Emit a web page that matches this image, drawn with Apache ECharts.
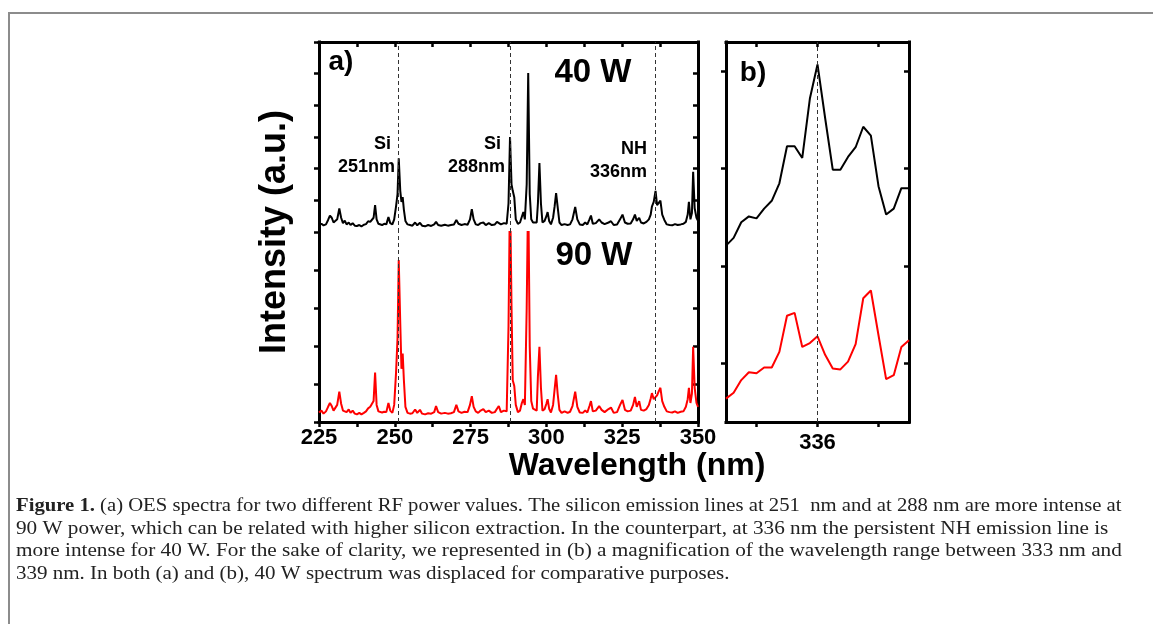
<!DOCTYPE html>
<html>
<head>
<meta charset="utf-8">
<script src="https://cdn.jsdelivr.net/npm/echarts@6/dist/echarts.min.js"></script>
<style>
  html, body { margin: 0; padding: 0; background: #fff; }
  #chart { width: 1153px; height: 624px; }
</style>
</head>
<body>
<div id="chart"></div>
<script>
// Panel (a): OES spectra, 225-350 nm (arbitrary intensity units, 40 W trace offset upward)
const wavelength = [
  225.0, 225.8, 226.5, 227.3, 228.0, 228.6, 229.2, 229.8, 230.4, 231.0,
  231.7, 232.3, 232.9, 233.5, 234.1, 234.8, 235.4, 236.1, 236.8, 237.5,
  238.3, 239.0, 239.8, 240.5, 241.2, 241.9, 242.5, 243.0, 243.5, 244.0,
  244.6, 245.2, 245.8, 246.5, 247.2, 247.9, 248.5, 249.2, 249.8, 250.4,
  250.9, 251.3, 251.8, 252.2, 252.6, 253.0, 253.5, 254.2, 255.0, 255.8,
  256.7, 257.4, 258.3, 259.0, 260.0, 261.0, 262.0, 263.0, 263.6, 264.3,
  265.3, 266.5, 267.5, 268.5, 269.5, 270.3, 271.0, 272.0, 273.0, 274.0,
  274.8, 275.4, 276.0, 276.7, 277.5, 278.3, 279.2, 280.0, 281.0, 282.0,
  283.0, 283.7, 284.3, 285.0, 286.0, 286.9, 287.5, 288.0, 288.5, 288.9,
  289.4, 289.9, 290.6, 291.3, 291.9, 292.4, 292.9, 293.5, 294.0, 294.5,
  295.0, 295.6, 296.2, 296.8, 297.2, 297.7, 298.2, 298.7, 299.4, 300.0,
  300.4, 300.9, 301.5, 302.2, 302.7, 303.2, 303.7, 304.3, 305.0, 306.0,
  307.0, 307.8, 308.6, 309.5, 310.2, 311.0, 312.0, 312.8, 313.5, 314.2,
  314.7, 315.3, 316.3, 317.4, 318.2, 319.2, 320.5, 321.3, 322.2, 323.3,
  324.3, 325.1, 325.9, 326.8, 327.8, 328.6, 329.2, 329.8, 330.6, 331.2,
  332.1, 333.0, 333.8, 334.4, 334.8, 335.4, 336.0, 336.5, 337.0, 337.6,
  338.2, 338.9, 339.7, 340.6, 341.5, 342.4, 343.3, 344.3, 345.2, 346.0,
  346.6, 347.0, 347.5, 348.0, 348.4, 348.9, 349.5, 350.0
];
const intensity40W = [
  0.22, 0.26, 0.21, 0.24, 0.38, 0.52, 0.45, 0.30, 0.24, 0.40,
  0.74, 0.45, 0.28, 0.36, 0.24, 0.30, 0.22, 0.28, 0.20, 0.19,
  0.22, 0.18, 0.23, 0.25, 0.34, 0.32, 0.38, 0.45, 0.85, 0.40,
  0.26, 0.28, 0.22, 0.26, 0.24, 0.47, 0.28, 0.24, 0.40, 0.80,
  1.20, 2.33, 1.30, 0.95, 1.10, 0.70, 0.35, 0.24, 0.22, 0.20,
  0.30, 0.21, 0.29, 0.20, 0.18, 0.22, 0.19, 0.24, 0.32, 0.22,
  0.20, 0.23, 0.20, 0.22, 0.24, 0.38, 0.26, 0.22, 0.25, 0.23,
  0.40, 0.72, 0.40, 0.24, 0.22, 0.28, 0.30, 0.22, 0.28, 0.22,
  0.24, 0.32, 0.38, 0.24, 0.28, 0.26, 0.90, 3.00, 1.50, 1.30,
  1.10, 0.40, 0.26, 0.30, 0.48, 0.63, 0.40, 1.50, 5.02, 1.20,
  0.40, 0.30, 0.36, 0.30, 0.90, 2.18, 0.90, 0.30, 0.35, 0.50,
  0.63, 0.35, 0.24, 0.45, 0.80, 1.23, 0.80, 0.30, 0.22, 0.25,
  0.22, 0.24, 0.40, 0.79, 0.40, 0.24, 0.22, 0.30, 0.24, 0.40,
  0.52, 0.26, 0.28, 0.40, 0.30, 0.25, 0.30, 0.34, 0.22, 0.24,
  0.40, 0.55, 0.30, 0.26, 0.27, 0.40, 0.55, 0.35, 0.45, 0.30,
  0.27, 0.32, 0.40, 0.55, 0.80, 0.95, 1.30, 0.85, 0.88, 0.99,
  0.55, 0.38, 0.24, 0.22, 0.21, 0.25, 0.22, 0.24, 0.26, 0.32,
  0.55, 0.95, 0.40, 0.60, 1.90, 0.75, 0.45, 0.35
];
const intensity90W = [
  0.25, 0.30, 0.22, 0.28, 0.40, 0.50, 0.42, 0.30, 0.25, 0.45,
  0.80, 0.48, 0.30, 0.35, 0.26, 0.33, 0.24, 0.30, 0.22, 0.20,
  0.24, 0.20, 0.24, 0.28, 0.36, 0.40, 0.42, 0.55, 1.30, 0.45,
  0.28, 0.30, 0.25, 0.27, 0.26, 0.50, 0.30, 0.24, 0.45, 1.28,
  2.20, 4.26, 2.60, 1.40, 1.80, 1.10, 0.40, 0.24, 0.22, 0.23,
  0.33, 0.24, 0.32, 0.22, 0.20, 0.23, 0.22, 0.26, 0.42, 0.26,
  0.22, 0.24, 0.22, 0.23, 0.26, 0.45, 0.28, 0.24, 0.27, 0.26,
  0.45, 0.68, 0.40, 0.28, 0.24, 0.30, 0.34, 0.26, 0.30, 0.24,
  0.26, 0.35, 0.42, 0.26, 0.30, 0.28, 2.50, 6.20, 3.00, 1.10,
  0.95, 0.45, 0.26, 0.30, 0.50, 0.60, 0.45, 3.00, 6.20, 2.00,
  0.55, 0.35, 0.32, 0.30, 1.20, 1.98, 0.90, 0.30, 0.34, 0.48,
  0.60, 0.35, 0.25, 0.45, 0.85, 1.24, 0.75, 0.32, 0.24, 0.28,
  0.24, 0.27, 0.42, 0.80, 0.40, 0.25, 0.24, 0.30, 0.25, 0.42,
  0.55, 0.28, 0.30, 0.42, 0.32, 0.26, 0.34, 0.38, 0.24, 0.26,
  0.45, 0.58, 0.32, 0.28, 0.30, 0.45, 0.66, 0.40, 0.55, 0.32,
  0.30, 0.34, 0.45, 0.62, 0.76, 0.60, 0.62, 0.70, 0.80, 0.90,
  0.55, 0.40, 0.28, 0.26, 0.25, 0.28, 0.24, 0.27, 0.28, 0.40,
  0.60, 0.90, 0.50, 0.75, 1.98, 0.90, 0.50, 0.40
];

// Panel (b): magnified region around the NH line
const zoomWavelength = [
  334.500, 334.625, 334.750, 334.875, 335.000, 335.125, 335.250, 335.375, 335.500,
  335.625, 335.750, 335.875, 336.000, 336.125, 336.250, 336.375, 336.500,
  336.625, 336.750, 336.875, 337.000, 337.125, 337.250, 337.375, 337.500
];
const zoom40W = [
  1.81, 1.89, 2.05, 2.11, 2.09, 2.19, 2.27, 2.45, 2.83,
  2.83, 2.71, 3.32, 3.67, 3.12, 2.59, 2.59, 2.72,
  2.82, 3.03, 2.94, 2.42, 2.13, 2.19, 2.40, 2.40
];
const zoom90W = [
  0.24, 0.30, 0.43, 0.51, 0.50, 0.56, 0.56, 0.72, 1.09,
  1.12, 0.77, 0.81, 0.88, 0.69, 0.55, 0.54, 0.62,
  0.80, 1.27, 1.35, 0.89, 0.44, 0.48, 0.77, 0.84
];

const xTicksA = [225, 250, 275, 300, 325, 350];
const emissionLines = [251, 288, 336];
const xTicksB = [335, 336, 337];
const xLabelsB = [336];
const yTicksB = [0.6, 1.6, 2.6, 3.6];

const pair = (xs, ys) => xs.map((x, i) => [x, ys[i]]);

const FONT = 'Liberation Sans, Arial, sans-serif';
const AXIS_W = 3;
const axisLine = { show: true, onZero: false, lineStyle: { color: '#000', width: AXIS_W, cap: 'square' } };
const tick = (inside, extra) => Object.assign({ show: true, inside: inside, length: 5, lineStyle: { color: '#000', width: 2.5 } }, extra || {});
const noSplit = { show: false };

const xAxisA = (gridIndex, position, inside, labels) => ({
  type: 'value', gridIndex, position, min: 225, max: 350, interval: 12.5,
  axisLine, axisTick: tick(inside), splitLine: noSplit,
  axisLabel: labels ? {
    show: true, margin: 5, fontFamily: FONT, fontWeight: 'bold', fontSize: 22, color: '#000',
    formatter: v => (xTicksA.indexOf(v) >= 0 ? String(v) : '')
  } : { show: false }
});

const yAxisA = (gridIndex, position, inside, max) => ({
  type: 'value', gridIndex, position, min: 0, max, interval: 1,
  axisLine, axisTick: tick(inside), splitLine: noSplit, axisLabel: { show: false }
});

const yAxisB = (position, inside) => ({
  type: 'value', gridIndex: 2, position, min: 0, max: 3.9,
  axisLine, axisTick: tick(inside, { customValues: yTicksB }), splitLine: noSplit,
  axisLabel: { show: false }
});

const dashed = { type: [4, 3], color: '#333', width: 1 };
const markLines = values => ({
  silent: true, symbol: ['none', 'none'], label: { show: false },
  lineStyle: dashed, emphasis: { disabled: true },
  data: values.map(v => ({ xAxis: v }))
});

const lineSeries = (name, xi, yi, data, color, marks) => ({
  name, type: 'line', xAxisIndex: xi, yAxisIndex: yi, data,
  showSymbol: false, symbol: 'none', clip: true, silent: true,
  lineStyle: { color, width: 2 }, markLine: marks
});

const boldText = (text, x, y, size, align, extra) => ({
  type: 'text', x, y, silent: true,
  style: Object.assign({
    text, fontFamily: FONT, fontWeight: 'bold', fontSize: size, fill: '#000',
    align: align || 'center', verticalAlign: 'middle'
  }, extra || {})
});

// Figure caption, set in a serif face and widened per line to fill the justified block
const captionFont = 'Liberation Serif, Times New Roman, serif';
const CAPTION_SIZE = 18;
const captionStretch = [1.149, 1.179, 1.181, 1.167];
const captionLines = [
  '(a) OES spectra for two different RF power values. The silicon emission lines at 251  nm and at 288 nm are more intense at',
  '90 W power, which can be related with higher silicon extraction. In the counterpart, at 336 nm the persistent NH emission line is',
  'more intense for 40 W. For the sake of clarity, we represented in (b) a magnification of the wavelength range between 333 nm and',
  '339 nm. In both (a) and (b), 40 W spectrum was displaced for comparative purposes.'
];

const chart = echarts.init(document.getElementById('chart'), null, { renderer: 'canvas' });
chart.setOption({
  animation: false,
  backgroundColor: '#fff',
  grid: [
    { left: 319, top: 42, width: 379, height: 190 },
    { left: 319, top: 232, width: 379, height: 190 },
    { left: 726, top: 42, width: 183, height: 380 }
  ],
  xAxis: [
    xAxisA(0, 'top', true, false),
    xAxisA(1, 'bottom', false, true),
    {
      type: 'value', gridIndex: 2, position: 'top', min: 334.5, max: 337.5,
      axisLine, axisTick: tick(true, { customValues: xTicksB }), splitLine: noSplit, axisLabel: { show: false }
    },
    {
      type: 'value', gridIndex: 2, position: 'bottom', min: 334.5, max: 337.5,
      axisLine, axisTick: tick(false, { customValues: xTicksB }), splitLine: noSplit,
      axisLabel: { show: true, customValues: xLabelsB, margin: 10, fontFamily: FONT, fontWeight: 'bold', fontSize: 22, color: '#000' }
    }
  ],
  yAxis: [
    yAxisA(0, 'left', false, 6),
    yAxisA(0, 'right', true, 6),
    yAxisA(1, 'left', false, 5),
    yAxisA(1, 'right', true, 5),
    yAxisB('left', false),
    yAxisB('right', true)
  ],
  series: [
    lineSeries('40 W', 0, 0, pair(wavelength, intensity40W), '#000', markLines(emissionLines)),
    lineSeries('90 W', 1, 2, pair(wavelength, intensity90W), '#ff0000', markLines(emissionLines)),
    lineSeries('40 W (b)', 3, 4, pair(zoomWavelength, zoom40W), '#000', markLines([336])),
    lineSeries('90 W (b)', 3, 4, pair(zoomWavelength, zoom90W), '#ff0000')
  ],
  graphic: [
    // page frame
    { type: 'line', silent: true, shape: { x1: 9, y1: 13, x2: 1153, y2: 13 }, style: { stroke: '#8c8c8c', lineWidth: 2 } },
    { type: 'line', silent: true, shape: { x1: 9, y1: 12, x2: 9, y2: 624 }, style: { stroke: '#8c8c8c', lineWidth: 2 } },

    boldText('a)', 341, 62, 28),
    boldText('b)', 753, 73, 28),
    boldText('40 W', 593, 73, 33),
    boldText('90 W', 594, 256, 33),
    boldText('Si', 391, 144, 18, 'right'),
    boldText('251nm', 395, 167, 18, 'right'),
    boldText('Si', 501, 144, 18, 'right'),
    boldText('288nm', 505, 167, 18, 'right'),
    boldText('NH', 647, 149, 18, 'right'),
    boldText('336nm', 647, 172, 18, 'right'),
    boldText('Wavelength (nm)', 637, 466, 32),
    Object.assign(boldText('Intensity (a.u.)', 0, 0, 36), { x: 275, y: 232, rotation: Math.PI / 2 }),

    // caption
    {
      type: 'text', x: 16, y: 506, scaleX: captionStretch[0], silent: true,
      style: {
        text: '{b|Figure 1.} ' + captionLines[0],
        fontFamily: captionFont, fontSize: CAPTION_SIZE, fill: '#222', verticalAlign: 'middle',
        rich: { b: { fontFamily: captionFont, fontWeight: 'bold', fontSize: CAPTION_SIZE, fill: '#222' } }
      }
    },
    ...captionLines.slice(1).map((t, i) => ({
      type: 'text', x: 16, y: 529 + i * 22.7, scaleX: captionStretch[i + 1], silent: true,
      style: { text: t, fontFamily: captionFont, fontSize: CAPTION_SIZE, fill: '#222', verticalAlign: 'middle' }
    }))
  ]
});
</script>
</body>
</html>
